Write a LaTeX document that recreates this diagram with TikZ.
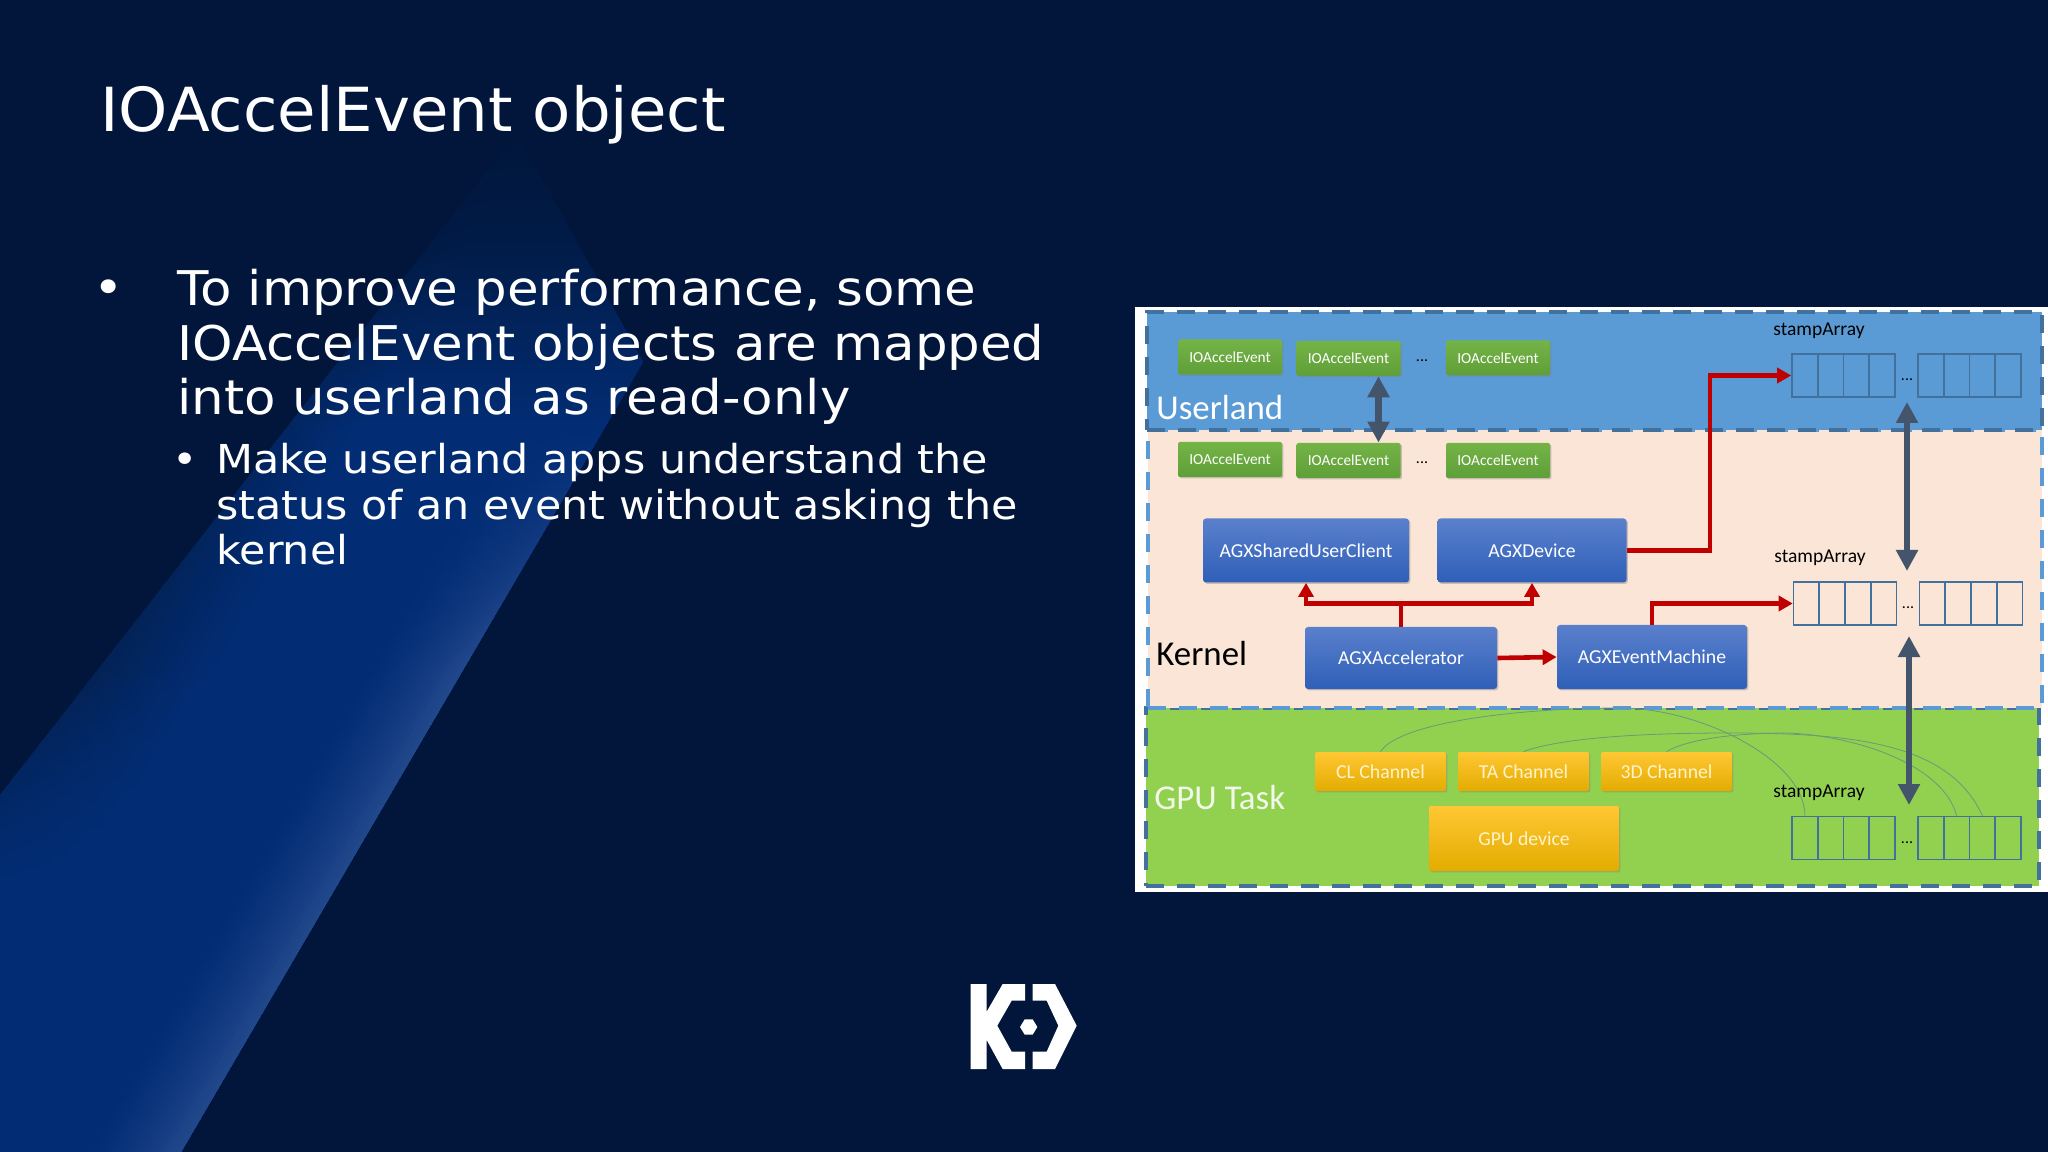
\documentclass[tikz,border=0pt]{standalone}
\usepackage{fontspec}
\usetikzlibrary{arrows.meta,positioning,shadows}
\newfontfamily\titlefont[FakeStretch=1.03]{DejaVu Sans}
\newfontfamily\slidefont[FakeStretch=1.075]{DejaVu Sans}
\newfontfamily\figfont{Carlito}
\definecolor{navy}{HTML}{01163A}
\definecolor{bandbase}{HTML}{022D75}
\definecolor{bandglow}{HTML}{24498D}
\definecolor{bandfaint}{HTML}{031F4E}
\definecolor{userfill}{HTML}{5B9BD5}
\definecolor{userline}{HTML}{41719C}
\definecolor{kernelfill}{HTML}{FBE5D6}
\definecolor{gpufill}{HTML}{92D050}
\definecolor{redline}{HTML}{C00000}
\definecolor{busline}{HTML}{44546A}
\definecolor{evtop}{HTML}{74B346}
\definecolor{evbot}{HTML}{5F9F38}
\definecolor{agxtop}{HTML}{5A80CC}
\definecolor{agxbot}{HTML}{2F5FB8}
\definecolor{goldtop}{HTML}{FFC733}
\definecolor{goldmid}{HTML}{FFC000}
\definecolor{goldbot}{HTML}{E3AC00}
\definecolor{goldtext}{HTML}{FFF3CC}
\begin{document}
\begin{tikzpicture}[
  x=0.5bp, y=-0.5bp,
  layer/.style={rectangle, line width=2bp, dash pattern=on 9bp off 6.5bp},
  event/.style={rectangle, rounded corners=1bp, inner sep=0bp, minimum width=52bp, minimum height=17.5bp, text=white, top color=evtop, bottom color=evbot,
    drop shadow={shadow xshift=0.7bp, shadow yshift=-0.7bp, opacity=0.4}, font=\figfont\fontsize{7.7}{9}\selectfont},
  agx/.style={rectangle, rounded corners=1.5bp, inner sep=0bp, minimum height=32bp, text=white, top color=agxtop, bottom color=agxbot,
    drop shadow={shadow xshift=0.7bp, shadow yshift=-0.7bp, opacity=0.4}, font=\figfont\fontsize{9.9}{11}\selectfont},
  channel/.style={rectangle, rounded corners=1bp, inner sep=0bp, minimum width=65.5bp, minimum height=19.5bp, text=goldtext, top color=goldtop, middle color=goldmid, bottom color=goldbot,
    drop shadow={shadow xshift=0.7bp, shadow yshift=-0.7bp, opacity=0.4}, font=\figfont\fontsize{9.9}{11}\selectfont},
  cell/.style={rectangle, draw=userline, line width=0.8bp, inner sep=0bp, minimum width=12.9bp, minimum height=21.5bp},
  dotsmall/.style={inner sep=0bp, font=\figfont\fontsize{8}{9}\selectfont},
  stamp/.style={inner sep=0bp, font=\figfont\fontsize{9.8}{11}\selectfont},
  area/.style={anchor=base west, inner sep=0bp, font=\figfont\fontsize{17.5}{20}\selectfont},
  redarrow/.style={draw=redline, line width=2.3bp, -{Triangle[length=7bp,width=7.5bp]}},
  busarrow/.style={draw=busline, line width=3.2bp, {Triangle[length=10.5bp,width=10.5bp]}-{Triangle[length=10.5bp,width=10.5bp]}},
  wire/.style={draw=userline!55!gpufill, line width=0.4bp}
]
\useasboundingbox (0,0) rectangle (2048,1152);
\fill[navy] (0,0) rectangle (2048,1152);

% light band
\begin{scope}
  \clip (517,133) -- (643,362) -- (181,1152) -- (0,1152) -- (0,795) -- cycle;
  \foreach \w in {400,390,...,100,95,90,...,0}{
    \pgfmathsetmacro\glow{100*max(0,1-\w/100)^1.5}
    \pgfmathsetmacro\deep{min(100,(400-\w)/1.5)}
    \colorlet{stripmid}{bandbase!\deep!bandfaint}
    \colorlet{stripfade}{stripmid!25!navy}
    \colorlet{striphot}{bandglow!\glow!stripmid}
    \colorlet{stripend}{bandglow!\glow!bandbase}
    \pgfdeclareverticalshading{strip\w}{100bp}{color(0bp)=(stripend); color(37.4bp)=(stripend); color(48.6bp)=(striphot); color(60.4bp)=(stripmid); color(69.3bp)=(stripfade); color(75bp)=(navy); color(100bp)=(navy)}
    \shade[shading=strip\w]
      ({777-\w},133) -- (797,133) -- (201,1152) -- ({181-\w},1152) -- cycle;
  }
\end{scope}

% slide text
\node[anchor=base west, inner sep=0bp, text=white, font=\titlefont\fontsize{30.5}{34}\selectfont] (title) at (100,132) {IOAccelEvent object};
\node[text=white, inner sep=0bp, font=\slidefont\fontsize{24}{27.5}\selectfont] (dotone) at (109,292) {•};
\node[anchor=north west, align=left, inner sep=0bp, text=white, font=\slidefont\fontsize{24}{27.5}\selectfont] (mainitem) at (177,268.5) {To improve performance, some\\IOAccelEvent objects are mapped\\into userland as read-only};
\node[text=white, inner sep=0bp, font=\slidefont\fontsize{20}{23}\selectfont] (dottwo) at (185,463) {•};
\node[anchor=north west, align=left, inner sep=0bp, text=white, font=\slidefont\fontsize{20}{23}\selectfont] (subitem) at (216,442.5) {Make userland apps understand the\\status of an event without asking the\\kernel};

% logo
\begin{scope}[shift={(940,960)}, x=0.16667bp, y=-0.16667bp]
  \fill[white] (92,72) -- (140,72) -- (140,155) -- (188,72) -- (255,72) -- (255,122) -- (215,122) -- (172,197) -- (215,275) -- (255,275) -- (255,327) -- (188,327) -- (140,240) -- (140,327) -- (92,327) -- cycle;
  \fill[white] (278,72) -- (345,72) -- (410,197) -- (345,327) -- (278,327) -- (278,275) -- (320,275) -- (355,197) -- (320,122) -- (278,122) -- cycle;
  \fill[white] (240,201) -- (254,178) -- (278,178) -- (292,201) -- (278,224) -- (254,224) -- cycle;
\end{scope}

% figure
\fill[white] (1135,307) rectangle (2048,892);
\node[layer, draw=userline, fill=gpufill, minimum width=446.5bp, minimum height=89bp] (gpu) at (1592.5,797) {};
\node[layer, draw=userfill, fill=kernelfill, minimum width=447bp, minimum height=139bp] (kernel) at (1594.5,569) {};
\node[layer, draw=userline, fill=userfill, minimum width=447.5bp, minimum height=59bp] (userland) at (1594.5,371) {};

\node[area, text=white] (userlabel) at (1156,420) {Userland};
\node[area, text=black] (kernellabel) at (1156,666) {Kernel};
\node[area, text=white!88!gpufill] (gpulabel) at (1154,809) {GPU Task};

\node[event] (evA) at (1230,357) {IOAccelEvent};
\node[event, right of=evA, node distance=59.25bp, yshift=-0.7bp] (evB) {IOAccelEvent};
\node[event, right of=evB, node distance=74.75bp, yshift=0.3bp] (evC) {IOAccelEvent};
\node[dotsmall] (dotsU) at (1422,360.5) {...};
\node[event] (evD) at (1230,459.5) {IOAccelEvent};
\node[event, right of=evD, node distance=59.25bp, yshift=-0.5bp] (evE) {IOAccelEvent};
\node[event, right of=evE, node distance=74.75bp] (evF) {IOAccelEvent};
\node[dotsmall] (dotsK) at (1422,462.5) {...};

\node[agx, minimum width=103bp] (shared) at (1306,550.5) {AGXSharedUserClient};
\node[agx, minimum width=94.5bp, right of=shared, node distance=113bp] (device) {AGXDevice};
\node[agx, minimum width=96bp, minimum height=31bp] (accel) at (1401,658) {AGXAccelerator};
\node[agx, minimum width=95bp, right of=accel, node distance=125.5bp, yshift=0.5bp] (machine) {AGXEventMachine};

\node[channel] (cl) at (1380.5,771.5) {CL Channel};
\node[channel, right of=cl, node distance=71.5bp] (ta) {TA Channel};
\node[channel, right of=ta, node distance=71.5bp] (threed) {3D Channel};
\node[channel, minimum width=95bp, minimum height=32.5bp] (gpudev) at (1524,838.5) {GPU device};

\foreach \row/\x/\y in {A/1792/375.5,B/1793.5/603.5,C/1792/838}{
  \foreach \i/\j in {1/5,2/6,3/7,4/8}{
    \node[cell] (cell\row\i) at ({\x+(\i-.5)*25.75},\y) {};
    \node[cell] (cell\row\j) at ({\x+126+(\i-.5)*25.75},\y) {};
  }
}
\node[dotsmall] (dotsA) at (1907,380) {...};
\node[dotsmall] (dotsB) at (1908,608) {...};
\node[dotsmall] (dotsC) at (1907,843) {...};

\draw[wire] (cl.north) .. controls (1400,722) and (1520,708) .. (1620,708) .. controls (1700,708) and (1805,760) .. (cellC1.north);
\draw[wire] (ta.north) .. controls (1560,738) and (1640,733) .. (1730,733) .. controls (1860,733) and (1950,745) .. (cellC7.north);
\draw[wire] (threed.north) .. controls (1690,738) and (1740,733) .. (1790,733) .. controls (1870,738) and (1945,770) .. (cellC6.north);

\node[stamp] (stampA) at (1819,331) {stampArray};
\node[stamp] (stampB) at (1820,558) {stampArray};
\node[stamp] (stampC) at (1819,793) {stampArray};

\draw[busarrow] ([xshift=15bp]evB.south) -- ([xshift=15bp]evE.north);
\draw[busarrow] ([yshift=-11bp]dotsA.center) -- ([yshift=18.5bp]dotsA.center |- dotsB.center);
\draw[busarrow] ([xshift=0.5bp,yshift=-14bp]dotsB.center) -- ([xshift=0.5bp,yshift=19bp]dotsB.center |- dotsC.center);

\draw[redline, line width=2.3bp] (accel.north) -- ++(0,-23) coordinate (split);
\draw[redarrow] (split) -| (shared.south);
\draw[redarrow] (split) -| (device.south);
\draw[redarrow] (accel.east) -- (machine.west);
\draw[redarrow] (device.east) -- ++(83,0) |- (cellA1.west);
\draw[redarrow] (machine.north) |- (cellB1.west);
\end{tikzpicture}
\end{document}
